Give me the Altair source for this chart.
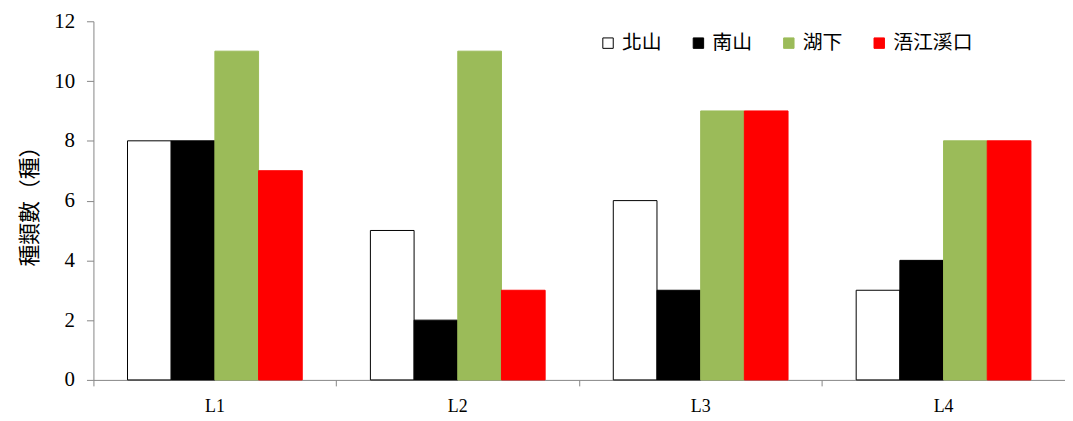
import altair as alt
import pandas as pd

sites = ["L1", "L2", "L3", "L4"]
series = ["北山", "南山", "湖下", "浯江溪口"]
v_beishan = [8, 5, 6, 3]
v_nanshan = [8, 2, 3, 4]
v_huxia = [11, 11, 9, 8]
v_wujiang = [7, 3, 9, 8]
fills = ["#FFFFFF", "#000000", "#9BBB59", "#FF0000"]
strokes = ["#000000", "#000000", "#9BBB59", "#FF0000"]

rows = []
for s, vals in zip(series, [v_beishan, v_nanshan, v_huxia, v_wujiang]):
    for site, v in zip(sites, vals):
        rows.append({"site": site, "series": s, "value": v})
df = pd.DataFrame(rows)

W = 978
H = 361
AX = "#868686"
SERIF = "Liberation Serif"
CJK = "Noto Sans CJK TC"

leg = dict(title=None, orient="none", direction="horizontal",
           legendX=508, legendY=12, symbolType="square",
           symbolSize=110, symbolStrokeWidth=1,
           labelFont=CJK, labelFontSize=20, labelColor="#000000",
           columnPadding=27, labelOffset=4)

chart = alt.Chart(df).mark_bar(strokeWidth=1).encode(
    x=alt.X("site:N", sort=sites,
            scale=alt.Scale(paddingInner=0, paddingOuter=0),
            axis=alt.Axis(title=None, labelAngle=0, bandPosition=0,
                          tickSize=6, tickColor=AX,
                          domainColor=AX, labelFont=SERIF, labelFontSize=18,
                          labelColor="#000000", labelPadding=12, grid=False)),
    xOffset=alt.XOffset("series:N", sort=series,
                        scale=alt.Scale(paddingInner=0, paddingOuter=0.78)),
    y=alt.Y("value:Q", scale=alt.Scale(domain=[0, 12]),
            axis=alt.Axis(values=[0, 2, 4, 6, 8, 10, 12], title="種類數（種）",
                          titleFont=CJK, titleFontSize=22, titleFontWeight="normal",
                          titleColor="#000000", titlePadding=12,
                          labelFont=SERIF, labelFontSize=21, labelColor="#000000",
                          labelPadding=12, tickSize=7, tickColor=AX,
                          domainColor=AX, grid=False)),
    fill=alt.Fill("series:N", sort=series,
                  scale=alt.Scale(domain=series, range=fills),
                  legend=alt.Legend(**leg)),
    stroke=alt.Stroke("series:N", sort=series,
                      scale=alt.Scale(domain=series, range=strokes),
                      legend=alt.Legend(**leg)),
).properties(
    width=W, height=H,
    padding={"left": 11, "top": 1, "right": 0, "bottom": 5},
).configure_view(stroke=None)

chart.save("out.html", embed_options={"renderer": "svg", "actions": False})
